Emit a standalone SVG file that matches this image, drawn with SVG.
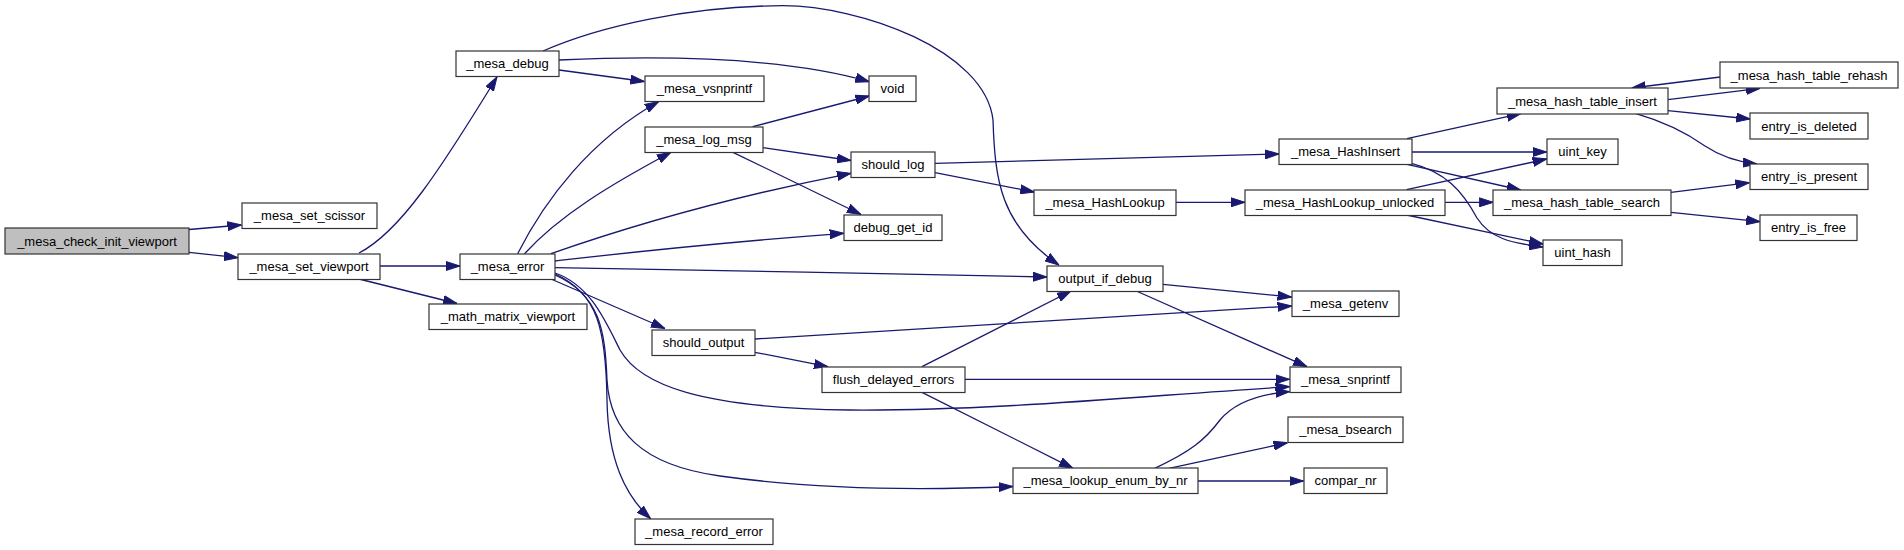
<svg xmlns="http://www.w3.org/2000/svg" width="1904" height="550" viewBox="0 0 1904 550">
<defs>
<marker id="arr" markerUnits="userSpaceOnUse" markerWidth="14" markerHeight="10" viewBox="0 0 14 10" refX="14" refY="5" orient="auto">
<path d="M0,0.5 L14,5 L0,9.5 z" fill="#191970" stroke="#191970" stroke-width="1"/>
</marker>
<style>
.n rect{fill:#ffffff;stroke:#333333;stroke-width:1.2}
.n.root rect{fill:#bfbfbf}
.n text{font-family:"Liberation Sans",Arial,sans-serif;font-size:13px;fill:#000;text-anchor:middle}
#edges path{fill:none;stroke:#191970;stroke-width:1.3;marker-end:url(#arr)}
</style>
</defs>
<rect width="1904" height="550" fill="#ffffff"/>
<g id="edges">
<path d="M189,229.5 L241.5,225"/>
<path d="M189,252.3 L238,257.7"/>
<path d="M359,253 C400,232 440,170 497,77"/>
<path d="M380,266 L460,266"/>
<path d="M359,279 L457,303.5"/>
<path d="M559,60 C650,56 780,56 869.4,81.7"/>
<path d="M559,70 L644.5,81.5"/>
<path d="M543,51 C600,26 690,6 783,5.7 C860,6 985,50 993,120 C995,180 1000,225 1059,265"/>
<path d="M752.7,126.7 L869.4,96"/>
<path d="M762.9,147.7 L851,160.5"/>
<path d="M733,152.3 L861,214.5"/>
<path d="M935,163.3 L1279,154"/>
<path d="M935,172.7 L1034.3,192"/>
<path d="M1176,202.3 L1245,202.3"/>
<path d="M1407,138.7 L1520.8,113.7"/>
<path d="M1411.5,152 L1546.7,152"/>
<path d="M1407,164.3 L1520.8,190"/>
<path d="M1411.5,163.3 C1445,172 1462,190 1477,218 C1490,238 1510,243 1543,247"/>
<path d="M1406.6,189.7 L1546.7,159"/>
<path d="M1445.2,202.3 L1493.3,202.3"/>
<path d="M1406.6,215 L1543,244"/>
<path d="M1667.8,99.7 L1760,88.3"/>
<path d="M1720.4,77 L1631.7,88"/>
<path d="M1667.8,110.7 L1750.3,119"/>
<path d="M1636,113.7 C1665,122 1685,132 1705,146 C1720,156 1738,162 1757,164"/>
<path d="M1671,192.3 L1749.5,182.7"/>
<path d="M1671,212.3 L1760.2,221.7"/>
<path d="M517.6,253.7 C545,200 590,140 658.8,101.5"/>
<path d="M524.5,253.7 C560,215 610,185 671,152.3"/>
<path d="M551,253.7 C590,240 700,203 851,173.3"/>
<path d="M555,261 C590,257 700,244 843.7,233.3"/>
<path d="M555,267.7 C700,270 900,274 1047,277"/>
<path d="M551,279 L665,328.5"/>
<path d="M555,273 C590,285 605,320 620,350 C640,385 700,408 850,410 C1000,411 1150,395 1289.6,386.7"/>
<path d="M555,275 C600,295 605,330 607,380 C610,430 640,465 720,476 C820,490 930,490 1012.7,486.5"/>
<path d="M555,274 C598,293 606,330 607,400 C608,460 625,495 650.6,518.7"/>
<path d="M755,339 L1291.6,306"/>
<path d="M755,352.3 L828,366.7"/>
<path d="M922,366.7 L1071,291"/>
<path d="M965,379.3 L1289.6,379.3"/>
<path d="M922,392.3 L1073,468.3"/>
<path d="M1163,284.3 L1291.6,297"/>
<path d="M1136.3,291 L1307,366.7"/>
<path d="M1154.7,468.3 C1190,452 1205,440 1220,420 C1235,402 1260,394 1289.6,391.7"/>
<path d="M1169,468.3 L1287.5,442.7"/>
<path d="M1197.6,481 L1303.5,481"/>
</g>
<g id="n_check" class="n root"><rect x="5" y="228" width="184" height="26"/><text x="97" y="245.5">_mesa_check_init_viewport</text></g>
<g id="n_scissor" class="n"><rect x="242" y="203" width="135" height="25.5"/><text x="309.5" y="220.2">_mesa_set_scissor</text></g>
<g id="n_setvp" class="n"><rect x="238" y="254" width="142" height="25.5"/><text x="309" y="271.2">_mesa_set_viewport</text></g>
<g id="n_debug" class="n"><rect x="456" y="51" width="103" height="25.5"/><text x="507.5" y="68.2">_mesa_debug</text></g>
<g id="n_error" class="n"><rect x="460" y="254" width="95" height="25.5"/><text x="507.5" y="271.2">_mesa_error</text></g>
<g id="n_mathvp" class="n"><rect x="429" y="304" width="158" height="25.5"/><text x="508" y="321.2">_math_matrix_viewport</text></g>
<g id="n_vsnprintf" class="n"><rect x="645" y="76" width="119" height="25.5"/><text x="704.5" y="93.2">_mesa_vsnprintf</text></g>
<g id="n_void" class="n"><rect x="869" y="76" width="47" height="25.5"/><text x="892.5" y="93.2">void</text></g>
<g id="n_logmsg" class="n"><rect x="645" y="127" width="118" height="25.5"/><text x="704" y="144.2">_mesa_log_msg</text></g>
<g id="n_shouldlog" class="n"><rect x="851" y="152" width="84" height="25.5"/><text x="893" y="169.2">should_log</text></g>
<g id="n_hashlookup" class="n"><rect x="1034" y="190" width="142" height="25.5"/><text x="1105" y="207.2">_mesa_HashLookup</text></g>
<g id="n_debugid" class="n"><rect x="844" y="215" width="98" height="25.5"/><text x="893" y="232.2">debug_get_id</text></g>
<g id="n_outdebug" class="n"><rect x="1047" y="266" width="116" height="25.5"/><text x="1105" y="283.2">output_if_debug</text></g>
<g id="n_shouldoutput" class="n"><rect x="652" y="330" width="103" height="25.5"/><text x="703.5" y="347.2">should_output</text></g>
<g id="n_flush" class="n"><rect x="822" y="367" width="143" height="25.5"/><text x="893.5" y="384.2">flush_delayed_errors</text></g>
<g id="n_lookupenum" class="n"><rect x="1013" y="468" width="185" height="25.5"/><text x="1105.5" y="485.2">_mesa_lookup_enum_by_nr</text></g>
<g id="n_recorderr" class="n"><rect x="635" y="519" width="138" height="25.5"/><text x="704" y="536.2">_mesa_record_error</text></g>
<g id="n_rehash" class="n"><rect x="1720" y="62" width="178" height="26"/><text x="1809" y="79.5">_mesa_hash_table_rehash</text></g>
<g id="n_insert" class="n"><rect x="1497" y="88" width="171" height="26"/><text x="1582.5" y="105.5">_mesa_hash_table_insert</text></g>
<g id="n_deleted" class="n"><rect x="1750" y="113" width="118" height="26"/><text x="1809" y="130.5">entry_is_deleted</text></g>
<g id="n_hashinsert" class="n"><rect x="1279" y="139" width="133" height="25.5"/><text x="1345.5" y="156.2">_mesa_HashInsert</text></g>
<g id="n_uintkey" class="n"><rect x="1547" y="139" width="71" height="25.5"/><text x="1582.5" y="156.2">uint_key</text></g>
<g id="n_present" class="n"><rect x="1750" y="164" width="118" height="25.5"/><text x="1809" y="181.2">entry_is_present</text></g>
<g id="n_unlocked" class="n"><rect x="1245" y="190" width="200" height="25.5"/><text x="1345" y="207.2">_mesa_HashLookup_unlocked</text></g>
<g id="n_search" class="n"><rect x="1493" y="190" width="178" height="25.5"/><text x="1582" y="207.2">_mesa_hash_table_search</text></g>
<g id="n_free" class="n"><rect x="1760" y="215" width="97" height="25.5"/><text x="1808.5" y="232.2">entry_is_free</text></g>
<g id="n_uinthash" class="n"><rect x="1543" y="240" width="79" height="25.5"/><text x="1582.5" y="257.2">uint_hash</text></g>
<g id="n_getenv" class="n"><rect x="1292" y="291" width="107" height="25.5"/><text x="1345.5" y="308.2">_mesa_getenv</text></g>
<g id="n_snprintf" class="n"><rect x="1290" y="367" width="111" height="25.5"/><text x="1345.5" y="384.2">_mesa_snprintf</text></g>
<g id="n_bsearch" class="n"><rect x="1288" y="417" width="115" height="25.5"/><text x="1345.5" y="434.2">_mesa_bsearch</text></g>
<g id="n_compar" class="n"><rect x="1304" y="468" width="83" height="25.5"/><text x="1345.5" y="485.2">compar_nr</text></g>
</svg>
